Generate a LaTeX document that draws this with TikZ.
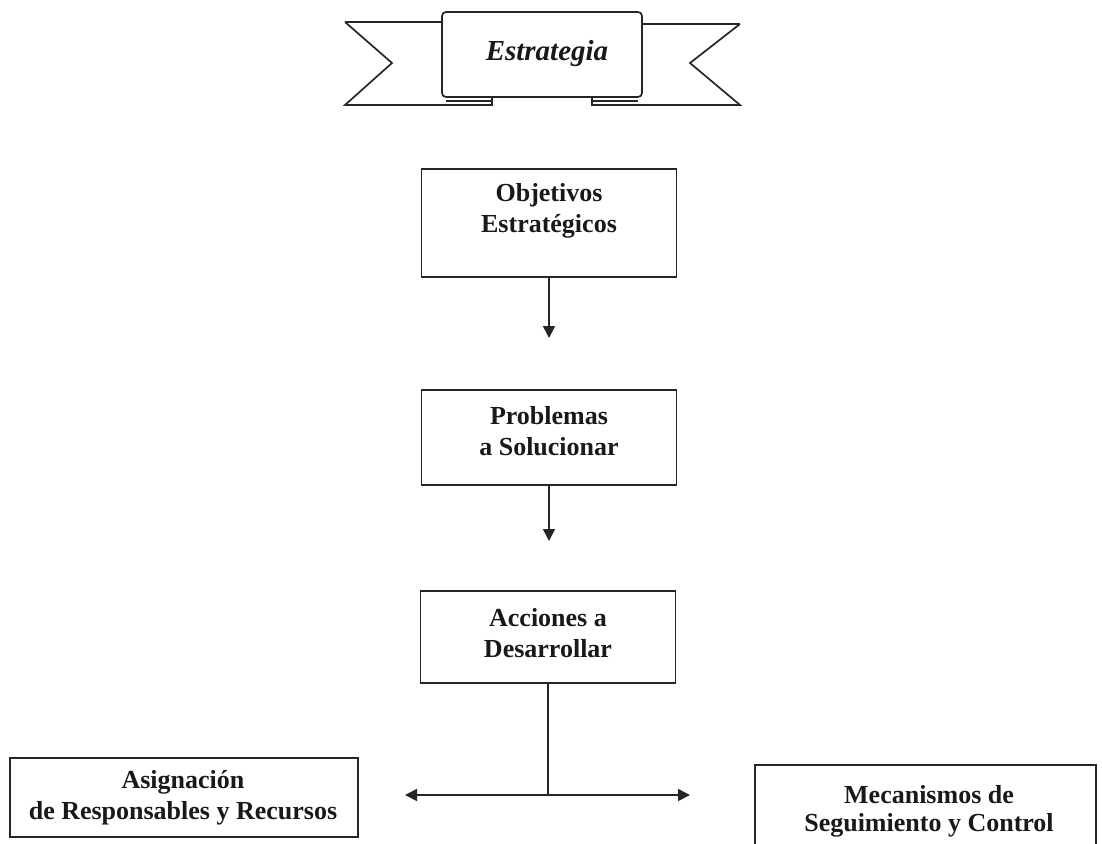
\documentclass[tikz,border=0pt]{standalone}
\usepackage{fontspec}
\setmainfont{Liberation Serif}
\usetikzlibrary{arrows.meta}
\begin{document}
\begin{tikzpicture}[x=1pt,y=-1pt,
  ink/.style={draw=black!85, line width=1.7pt},
  box/.style={ink, rectangle, inner sep=0pt, fill=white},
  txt/.style={align=center, inner sep=0pt, font=\fontsize{26}{31}\selectfont\bfseries, text=black!90},
  arr/.style={ink, -{Triangle[length=12pt,width=12pt]}}]
\clip (0,0) rectangle (1102,843);
\fill[white] (0,0) rectangle (1102,843);
% banner
\draw[ink, line join=miter] (345,22) -- (392,63) -- (345,105) -- (492,105) -- (492,94);
\draw[ink] (345,22) -- (442,22);
\draw[ink, line join=miter] (740,24) -- (690,63) -- (740,105) -- (592,105) -- (592,94);
\draw[ink] (740,24) -- (642,24);
\draw[ink, fill=white, rounded corners=4pt] (442,12) rectangle (642,97);
\draw[ink] (446,101) -- (492,101);
\draw[ink] (592,101) -- (638,101);
\node[txt, font=\fontsize{29}{34}\selectfont\bfseries\itshape] (estr) at (547,54) {Estrategia};
% boxes
\node[box, minimum width=255pt, minimum height=108pt] (obj) at (549,223) {};
\node[txt] (objt) at (549,211) {Objetivos\\Estratégicos};
\node[box, minimum width=255pt, minimum height=95pt] (prob) at (549,437.5) {};
\node[txt] (probt) at (549,431) {Problemas\\a Solucionar};
\node[box, minimum width=255pt, minimum height=92pt] (acc) at (548,637) {};
\node[txt] (acct) at (548,633) {Acciones a\\Desarrollar};
\node[box, minimum width=348pt, minimum height=79pt] (asig) at (184,797.5) {};
\node[txt] (asigt) at (183,798) {Asignación\\de Responsables y Recursos};
\node[box, minimum width=341pt, minimum height=90pt] (meca) at (925.5,810) {};
\node[txt, font=\fontsize{26}{28}\selectfont\bfseries] (mecat) at (929,811) {Mecanismos de\\Seguimiento y Control};
% connectors
\coordinate (a1) at (549,338);
\coordinate (a2) at (549,541);
\coordinate (j) at (548,795);
\coordinate (l) at (405,795);
\coordinate (r) at (690,795);
\draw[arr] (obj.south) -- (a1);
\draw[arr] (prob.south) -- (a2);
\draw[ink] (acc.south) -- (j);
\draw[arr] (j) -- (l);
\draw[arr] (j) -- (r);
\end{tikzpicture}
\end{document}
